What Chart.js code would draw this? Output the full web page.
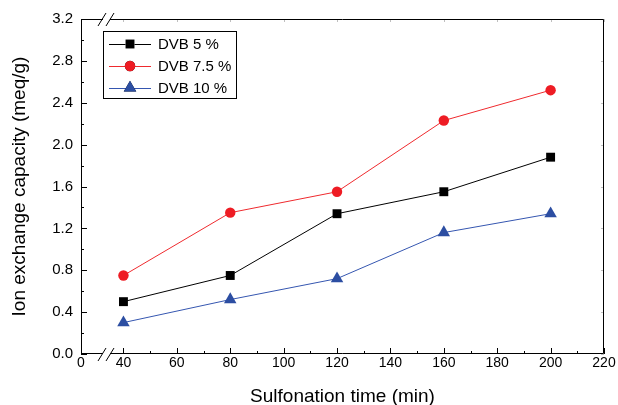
<!DOCTYPE html>
<html>
<head>
<meta charset="utf-8">
<script src="https://cdn.jsdelivr.net/npm/chart.js@4/dist/chart.umd.min.js"></script>
<style>
  html, body { margin: 0; padding: 0; background: #ffffff; }
  #wrap { width: 618px; height: 405px; }
</style>
</head>
<body>
<div id="wrap"><canvas id="chart"></canvas></div>
<script>
// Sulfonation time (min)
const times = [40, 80, 120, 160, 200];

// Ion exchange capacity (meq/g)
const dvb5 = [0.50, 0.75, 1.34, 1.55, 1.88];
const dvb75 = [0.75, 1.35, 1.55, 2.23, 2.52];
const dvb10 = [0.30, 0.52, 0.72, 1.16, 1.34];

const seriesNames = ['DVB 5 %', 'DVB 7.5 %', 'DVB 10 %'];

// axis ticks
const xTicks = [40, 60, 80, 100, 120, 140, 160, 180, 200, 220];
const yTicks = [0.0, 0.4, 0.8, 1.2, 1.6, 2.0, 2.4, 2.8, 3.2];

// x axis is broken between 0 and 40, this is where the "0" sits
const xBreakStart = 24.1;

const font = "'Liberation Sans', Arial, sans-serif";

// Origin-like frame: inward ticks, box, axis breaks, legend
const framePlugin = {
    id: 'frame',
    afterDatasetsDraw(chart) {
        const ctx = chart.ctx;
        const { left, right, top, bottom } = chart.chartArea;
        const xs = chart.scales.x;
        const ys = chart.scales.y;
        ctx.save();
        ctx.strokeStyle = '#000';
        ctx.lineWidth = 1;

        // box
        ctx.beginPath();
        ctx.moveTo(left + 0.5, bottom);
        ctx.lineTo(left + 0.5, top + 0.5);
        ctx.lineTo(right - 0.5, top + 0.5);
        ctx.lineTo(right - 0.5, bottom - 0.5);
        ctx.lineTo(left, bottom - 0.5);
        ctx.stroke();

        // x ticks (major + minor), pointing inward
        ctx.beginPath();
        xTicks.forEach((v, i) => {
            const px = Math.round(xs.getPixelForValue(v)) + 0.5;
            ctx.moveTo(px, bottom);
            ctx.lineTo(px, bottom - 6);
            if (i < xTicks.length - 1) {
                const mx = Math.round(xs.getPixelForValue((v + xTicks[i + 1]) / 2)) + 0.5;
                ctx.moveTo(mx, bottom);
                ctx.lineTo(mx, bottom - 3);
            }
        });
        // y ticks
        yTicks.forEach((v, i) => {
            const py = Math.round(ys.getPixelForValue(v)) + 0.5;
            ctx.moveTo(left, py);
            ctx.lineTo(left + 6, py);
            if (i < yTicks.length - 1) {
                const my = Math.round(ys.getPixelForValue((v + yTicks[i + 1]) / 2)) + 0.5;
                ctx.moveTo(left, my);
                ctx.lineTo(left + 3, my);
            }
        });
        ctx.stroke();

        // faint ticks on top and right
        ctx.strokeStyle = 'rgba(0,0,0,0.25)';
        ctx.beginPath();
        xTicks.forEach(v => {
            const px = Math.round(xs.getPixelForValue(v)) + 0.5;
            ctx.moveTo(px, top);
            ctx.lineTo(px, top + 3);
        });
        yTicks.forEach(v => {
            const py = Math.round(ys.getPixelForValue(v)) + 0.5;
            ctx.moveTo(right, py);
            ctx.lineTo(right - 3, py);
        });
        ctx.stroke();

        // axis breaks (bottom and top)
        const b0 = left + 21;
        const b1 = left + 29;
        [bottom, top].forEach(yy => {
            ctx.fillStyle = '#fff';
            ctx.fillRect(b0 + 1, yy - 2, b1 - b0 - 1, 4);
            ctx.strokeStyle = '#000';
            ctx.beginPath();
            ctx.moveTo(b0 - 4, yy + 7);
            ctx.lineTo(b0 + 4, yy - 6);
            ctx.moveTo(b1 - 4, yy + 7);
            ctx.lineTo(b1 + 4, yy - 6);
            ctx.stroke();
        });

        // legend box
        const lx = left + 22, ly = top + 12, lw = 133, lh = 67;
        ctx.fillStyle = '#fff';
        ctx.fillRect(lx, ly, lw, lh);
        ctx.strokeStyle = '#000';
        ctx.strokeRect(lx + 0.5, ly + 0.5, lw, lh);
        chart.data.datasets.forEach((ds, i) => {
            const cy = ly + 13 + i * 22;
            ctx.strokeStyle = ds.borderColor;
            ctx.lineWidth = 1;
            ctx.beginPath();
            ctx.moveTo(lx + 6, cy + 0.5);
            ctx.lineTo(lx + 48, cy + 0.5);
            ctx.stroke();
            Chart.helpers.drawPoint(ctx, {
                pointStyle: ds.pointStyle,
                radius: ds.pointRadius,
                rotation: 0,
                borderWidth: 0
            }, lx + 27, cy);
            ctx.fillStyle = ds.pointBackgroundColor;
            ctx.fill();
            ctx.fillStyle = '#000';
            ctx.font = '15px ' + font;
            ctx.textBaseline = 'middle';
            ctx.fillText(ds.label, lx + 55, cy + 1);
        });
        ctx.restore();
    }
};

const ctx = document.getElementById('chart');
new Chart(ctx, {
    type: 'line',
    data: {
        datasets: [
            {
                label: seriesNames[0],
                data: times.map((t, i) => ({ x: t, y: dvb5[i] })),
                borderColor: '#000000',
                backgroundColor: '#000000',
                pointBackgroundColor: '#000000',
                pointBorderWidth: 0,
                pointStyle: 'rect',
                pointRadius: 6.3,
                borderWidth: 1
            },
            {
                label: seriesNames[1],
                data: times.map((t, i) => ({ x: t, y: dvb75[i] })),
                borderColor: '#ef2a2e',
                backgroundColor: '#ee1c24',
                pointBackgroundColor: '#ee1c24',
                pointBorderWidth: 0,
                pointStyle: 'circle',
                pointRadius: 5.2,
                borderWidth: 1
            },
            {
                label: seriesNames[2],
                data: times.map((t, i) => ({ x: t, y: dvb10[i] })),
                borderColor: '#3556b0',
                backgroundColor: '#2c4ea2',
                pointBackgroundColor: '#2c4ea2',
                pointBorderWidth: 0,
                pointStyle: 'triangle',
                pointRadius: 7.2,
                borderWidth: 1
            }
        ]
    },
    options: {
        responsive: true,
        maintainAspectRatio: false,
        animation: false,
        layout: { padding: { top: 19, right: 14, left: 0, bottom: 0 } },
        plugins: {
            legend: { display: false },
            tooltip: { enabled: false }
        },
        scales: {
            x: {
                type: 'linear',
                min: xBreakStart,
                max: 220,
                afterBuildTicks: s => {
                    s.ticks = [{ value: xBreakStart }].concat(xTicks.map(v => ({ value: v })));
                },
                afterFit: s => { s.height = 51; },
                grid: { display: false, drawTicks: false },
                border: { display: false },
                ticks: {
                    padding: 1,
                    color: '#000',
                    maxRotation: 0,
                    autoSkip: false,
                    font: { family: font, size: 14 },
                    callback: v => (v === xBreakStart ? '0' : String(v))
                },
                title: {
                    display: true,
                    text: 'Sulfonation time (min)',
                    color: '#000',
                    font: { family: font, size: 19 },
                    padding: { top: 0, bottom: -3 }
                }
            },
            y: {
                min: 0,
                max: 3.2,
                afterBuildTicks: s => {
                    s.ticks = yTicks.map(v => ({ value: v }));
                },
                afterFit: s => { s.width = 81; },
                grid: { display: false, drawTicks: false },
                border: { display: false },
                ticks: {
                    padding: 8,
                    color: '#000',
                    font: { family: font, size: 15 },
                    callback: v => Number(v).toFixed(1)
                },
                title: {
                    display: true,
                    text: 'Ion exchange capacity (meq/g)',
                    color: '#000',
                    font: { family: font, size: 19 },
                    padding: { top: 8, bottom: 0 }
                }
            }
        }
    },
    plugins: [framePlugin]
});
</script>
</body>
</html>
